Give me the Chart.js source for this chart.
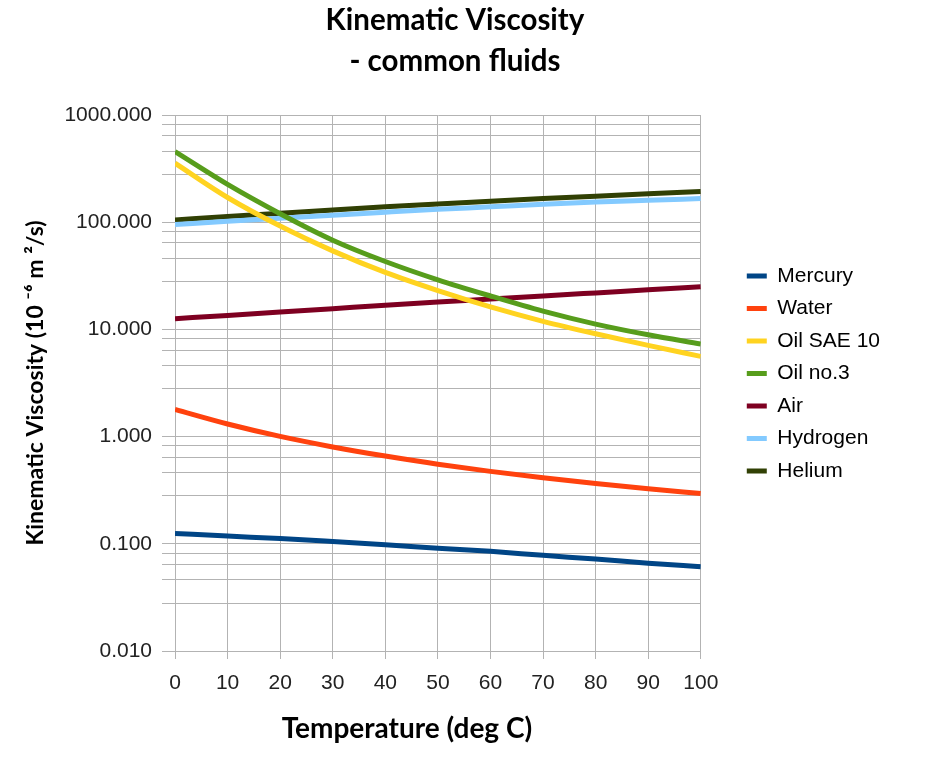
<!DOCTYPE html>
<html>
<head>
<meta charset="utf-8">
<script src="https://cdn.jsdelivr.net/npm/chart.js@4.4.1/dist/chart.umd.min.js"></script>
<style>
  body { margin: 0; background: #fff; }
  #wrap { width: 935px; height: 757px; }
</style>
</head>
<body>
<div id="wrap"><canvas id="viscChart" width="935" height="757"></canvas></div>
<script>
// temperatures (deg C)
const temps = [0, 10, 20, 30, 40, 50, 60, 70, 80, 90, 100];

// kinematic viscosity, 10^-6 m2/s
const mercury  = [0.125, 0.118, 0.112, 0.105, 0.098, 0.091, 0.085, 0.078, 0.072, 0.066, 0.061];
const water    = [1.79, 1.31, 1.004, 0.801, 0.658, 0.553, 0.474, 0.413, 0.365, 0.326, 0.294];
const oilSAE10 = [355, 170, 92, 54, 34, 23, 16.2, 11.9, 9.1, 7.1, 5.6];
const oilNo3   = [455, 225, 120, 68, 43, 29, 20.5, 14.8, 11.2, 8.9, 7.3];
const air      = [12.6, 13.5, 14.5, 15.6, 16.8, 18.0, 19.2, 20.5, 21.9, 23.4, 25.0];
const hydrogen = [95, 102, 109, 116, 124, 132, 139, 147, 154, 160, 166];
const helium   = [105, 113, 121, 130, 139, 148, 157, 166, 175, 184, 193];

const seriesNames = ['Mercury', 'Water', 'Oil SAE 10', 'Oil no.3', 'Air', 'Hydrogen', 'Helium'];
const seriesColors = ['#004586', '#ff420e', '#ffd320', '#579d1c', '#7e0021', '#83caff', '#314004'];

// y axis ticks (log), labels and the minor grid steps inside each decade
const yMajor = [0.01, 0.1, 1, 10, 100, 1000];
const yTickLabels = ['0.010', '0.100', '1.000', '10.000', '100.000', '1000.000'];
const yMinorSteps = [2.8, 4.6, 6.4, 8.2];

const chartTitle = ['Kinematic Viscosity', '- common fluids'];
const xAxisTitle = 'Temperature (deg C)';
const yAxisTitle = 'Kinematic Viscosity (10 ⁻⁶ m ²/s)';

const allSeries = [mercury, water, oilSAE10, oilNo3, air, hydrogen, helium];

const datasets = allSeries.map((vals, i) => ({
  label: seriesNames[i],
  data: vals.map((v, j) => ({ x: temps[j], y: v })),
  borderColor: seriesColors[i],
  backgroundColor: seriesColors[i],
  borderWidth: 5,
  pointRadius: 0,
  cubicInterpolationMode: 'monotone',
  fill: false
}));

const gridColor = '#b3b3b3';
const tickFont = { family: 'Liberation Sans', size: 21 };

// x axis title sits a little left of the plot centre in the original
const xTitlePlugin = {
  id: 'xTitle',
  afterDraw(chart) {
    const { ctx, chartArea } = chart;
    ctx.save();
    ctx.font = 'bold 28px Lato';
    ctx.fillStyle = '#000';
    ctx.textAlign = 'center';
    ctx.textBaseline = 'middle';
    ctx.fillText(xAxisTitle, (chartArea.left + chartArea.right) / 2 - 31, 729);
    ctx.restore();
  }
};

new Chart(document.getElementById('viscChart'), {
  type: 'line',
  data: { datasets: datasets },
  plugins: [xTitlePlugin],
  options: {
    responsive: false,
    animation: false,
    devicePixelRatio: 1,
    layout: { padding: { left: 20, right: 45, top: 0, bottom: 10 } },
    plugins: {
      title: {
        display: true,
        text: chartTitle,
        color: '#000',
        font: { family: 'Lato', size: 29.5, weight: 'bold', lineHeight: 1.4 },
        padding: { top: 0, bottom: 32.4 }
      },
      legend: {
        position: 'right',
        maxWidth: 300,
        labels: {
          usePointStyle: true,
          pointStyle: 'line',
          pointStyleWidth: 20,
          padding: 11.5,
          color: '#000',
          font: { family: 'Liberation Sans', size: 21 }
        }
      },
      tooltip: { enabled: false }
    },
    scales: {
      x: {
        type: 'linear',
        min: 0,
        max: 100,
        afterFit: (scale) => { scale.height = 96; },
        ticks: { stepSize: 10, color: '#222', font: tickFont, padding: 12 },
        grid: { color: gridColor, tickLength: 8 },
        border: { color: gridColor }
      },
      y: {
        type: 'logarithmic',
        min: 0.01,
        max: 1000,
        afterFit: (scale) => { scale.width = 155; },
        afterBuildTicks: (scale) => {
          const ticks = [];
          yMajor.forEach((m, i) => {
            ticks.push({ value: m, major: true });
            if (i < yMajor.length - 1) {
              yMinorSteps.forEach(s => ticks.push({ value: m * s }));
            }
          });
          scale.ticks = ticks;
        },
        ticks: {
          autoSkip: false,
          color: '#222',
          font: tickFont,
          padding: 10,
          callback: (value) => {
            const k = yMajor.findIndex(m => Math.abs(m - value) < m * 1e-6);
            return k >= 0 ? yTickLabels[k] : '';
          }
        },
        grid: { color: gridColor, tickLength: 13 },
        border: { color: gridColor },
        title: { display: true, text: yAxisTitle, color: '#000', font: { family: 'Lato', size: 23, weight: 'bold' }, padding: { top: 2, bottom: 0 } }
      },
      // empty spacer axis keeping the legend off the plot
      gap: {
        type: 'linear',
        position: 'right',
        display: true,
        grid: { display: false },
        border: { display: false },
        ticks: { display: false },
        afterFit: (scale) => { scale.width = 34.5; }
      }
    }
  }
});
</script>
</body>
</html>
